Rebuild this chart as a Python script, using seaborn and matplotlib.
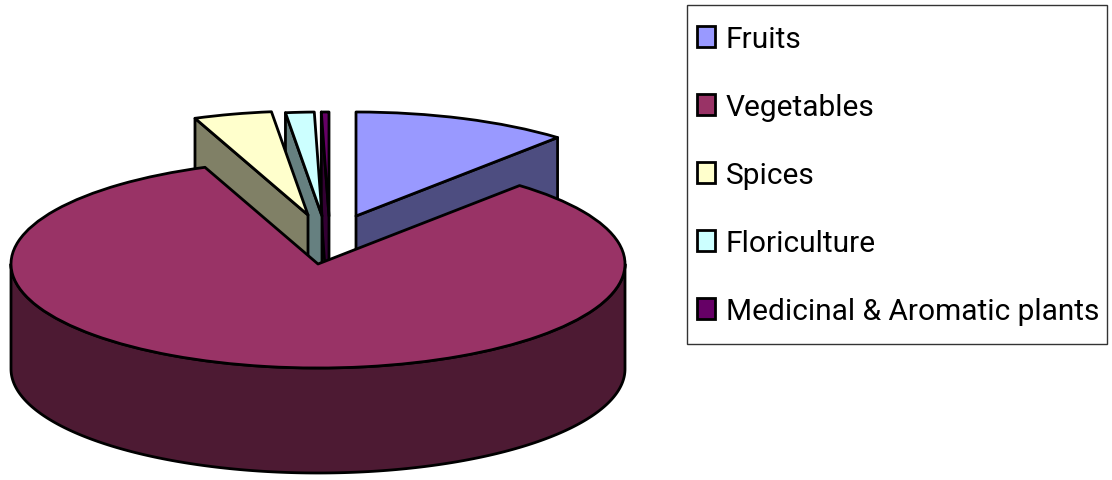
#!/usr/bin/env python3

import matplotlib.pyplot as plt
import numpy as np
import seaborn as sns
from matplotlib.colors import to_rgb
from matplotlib.patches import Patch, Rectangle

categories = ["Fruits", "Vegetables", "Spices", "Floriculture", "Medicinal & Aromatic plants"]
shares = [11.4, 82.6, 4.1, 1.5, 0.4]
colors = ["#9999FF", "#993366", "#FFFFCC", "#CCFFFF", "#660066"]

sns.set_theme(style="white")
plt.rcParams['font.family'] = ['Roboto', 'DejaVu Sans']

W, H = 1112, 481
RX, RY, DEPTH = 307, 104, 105      # ellipse size and wall height, pixels
CX, CY = 318, 265                  # where the vegetables slice has its tip
LW = 2.0

# tip of every slice in pixels, Excel moved them apart by hand
tips = [(356, 217), (318, 265), (308, 216), (322, 217), (329, 217)]

fig = plt.figure(figsize=(W / 100, H / 100), dpi=100)
ax = fig.add_axes([0, 0, 1, 1])

wedges, _ = ax.pie(shares, colors=colors, startangle=90, counterclock=False,
                   wedgeprops=dict(edgecolor="black", linewidth=LW, joinstyle="round"))

# 1 data unit = RX px across and RY px up, this squashes the pie
ax.set_aspect("auto")
ax.set_xlim(-CX / RX, (W - CX) / RX)
ax.set_ylim((CY - H) / RY, CY / RY)
ax.axis("off")

depth = DEPTH / RY


def wall(points, color, z):
    pts = np.array(points)
    ax.fill(pts[:, 0], pts[:, 1], facecolor=np.array(to_rgb(color)) * 0.5,
            edgecolor="black", linewidth=LW, joinstyle="round", zorder=z)


# back to front: medicinal, floriculture, spices, fruits, vegetables
order = {4: 1, 3: 2, 2: 3, 0: 4, 1: 5}
for i, w in enumerate(wedges):
    cx = (tips[i][0] - CX) / RX
    cy = (CY - tips[i][1]) / RY
    w.set_center((cx, cy))
    z = order[i] * 2 + 1
    w.set_zorder(z)
    if i == 1:
        # only the front rim of the big slice shows
        a = np.radians(np.linspace(-180, 0, 200))
        top = np.column_stack([cx + np.cos(a), cy + np.sin(a)])
        low = top[::-1] - [0, depth]
        wall(np.vstack([top, low]), colors[i], z - 1)
    else:
        cut = w.theta1 if i == 0 else w.theta2
        a = np.radians(cut)
        ex, ey = cx + np.cos(a), cy + np.sin(a)
        wall([(cx, cy), (ex, ey), (ex, ey - depth), (cx, cy - depth)], colors[i], z - 1)

# legend box on its own, the padding differs across and down
ax.add_patch(Rectangle((687 / W, 1 - 345 / H), 420 / W, 339 / H, transform=fig.transFigure,
                       facecolor="white", edgecolor="#333333", linewidth=1.0, zorder=20))

handles = [Patch(facecolor=c, edgecolor="black", linewidth=LW) for c in colors]
leg = ax.legend(handles, categories, loc="upper left",
                bbox_to_anchor=(697 / W, 1 - 26 / H), bbox_transform=fig.transFigure,
                fontsize=21.5, frameon=False, borderaxespad=0, borderpad=0,
                labelspacing=1.34, handlelength=0.6, handleheight=0.73,
                handletextpad=0.37, labelcolor="black")
leg.set_zorder(30)

plt.savefig("out.png", dpi=100)
plt.close()
